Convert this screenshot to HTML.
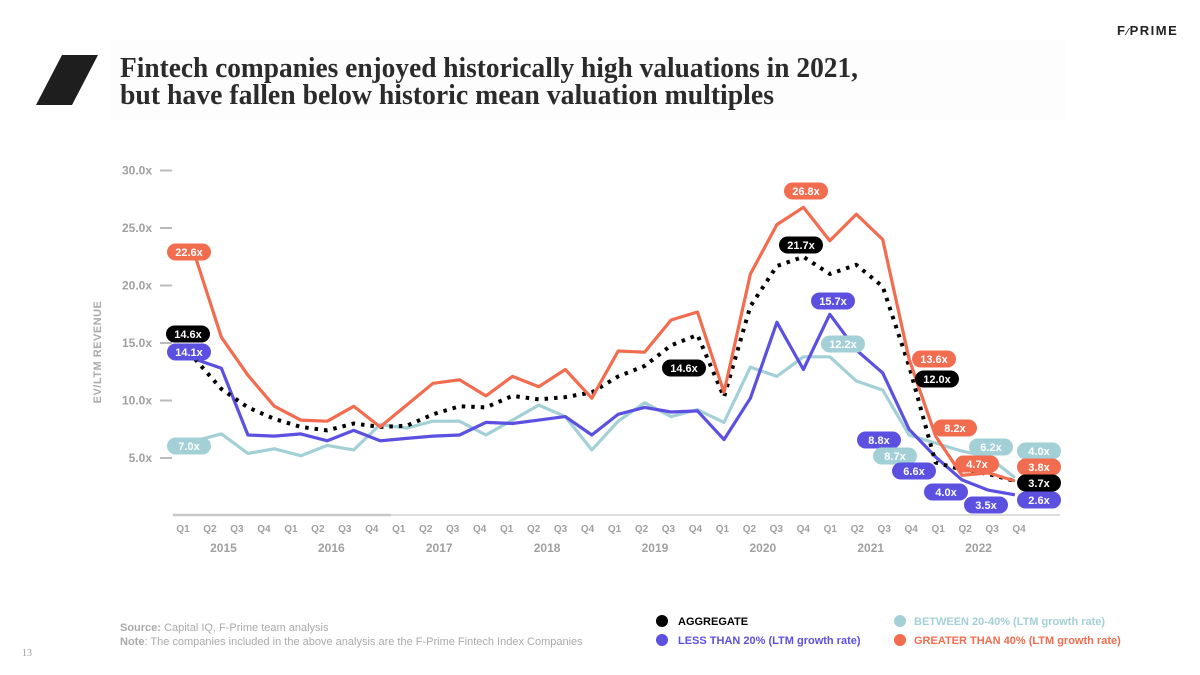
<!DOCTYPE html>
<html><head><meta charset="utf-8"><style>
html,body{margin:0;padding:0;background:#fff;width:1200px;height:675px;overflow:hidden}
svg{display:block}
text{font-family:"Liberation Sans",sans-serif}
text.serif{font-family:"Liberation Serif",serif}
</style></head><body>
<svg id="chart" width="1200" height="675" viewBox="0 0 1200 675" xmlns="http://www.w3.org/2000/svg">
<rect x="0" y="0" width="1200" height="675" fill="#fff"/>
<rect x="110" y="40" width="955" height="80" fill="#fdfdfd"/>
<polygon points="62,55 98,55 72,105 36,105" fill="#1e1e1e"/>
<text class="serif" style="font-family:'Liberation Serif',serif" x="120" y="77" font-weight="bold" font-size="28" fill="#2b2b2b" textLength="738" lengthAdjust="spacingAndGlyphs">Fintech companies enjoyed historically high valuations in 2021,</text>
<text class="serif" style="font-family:'Liberation Serif',serif" x="120" y="104" font-weight="bold" font-size="28" fill="#2b2b2b" textLength="654" lengthAdjust="spacingAndGlyphs">but have fallen below historic mean valuation multiples</text>
<text x="1117" y="35" font-size="13" font-weight="bold" fill="#222" letter-spacing="1.5">F<tspan font-size="10">⁄</tspan>PRIME</text>
<text transform="translate(101,352) rotate(-90)" text-anchor="middle" font-size="11" font-weight="bold" fill="#aaa" letter-spacing="0.5">EV/LTM REVENUE</text>
<g id="axes"></g>
<g id="series"></g>
<g id="pills"></g>
<text x="120" y="631" font-size="11" fill="#aaa"><tspan font-weight="bold">Source:</tspan> Capital IQ, F-Prime team analysis</text>
<text x="120" y="645" font-size="11" fill="#aaa"><tspan font-weight="bold">Note</tspan>: The companies included in the above analysis are the F-Prime Fintech Index Companies</text>
<g>
<g><circle cx="662" cy="621" r="6" fill="#000"/><text x="678" y="625" font-size="11" font-weight="bold" fill="#000">AGGREGATE</text></g>
<g><circle cx="662" cy="640" r="6" fill="#5b50e0"/><text x="678" y="644" font-size="11" font-weight="bold" fill="#5b50e0">LESS THAN 20% (LTM growth rate)</text></g>
<g><circle cx="900" cy="621" r="6" fill="#a3d0d6"/><text x="914" y="625" font-size="11" font-weight="bold" fill="#a3d0d6">BETWEEN 20-40% (LTM growth rate)</text></g>
<g><circle cx="900" cy="640" r="6" fill="#f26c4f"/><text x="914" y="644" font-size="11" font-weight="bold" fill="#f26c4f">GREATER THAN 40% (LTM growth rate)</text></g>
</g>
<text class="serif" style="font-family:'Liberation Serif',serif" x="22" y="656" font-size="10" fill="#999">13</text>
</svg>
<script>
const quarters = ["Q1","Q2","Q3","Q4","Q1","Q2","Q3","Q4","Q1","Q2","Q3","Q4","Q1","Q2","Q3","Q4","Q1","Q2","Q3","Q4","Q1","Q2","Q3","Q4","Q1","Q2","Q3","Q4","Q1","Q2","Q3","Q4"];
const years = ["2015","2016","2017","2018","2019","2020","2021","2022"];
const yTicks = [5,10,15,20,25,30];
const yTickLabels = ["5.0x","10.0x","15.0x","20.0x","25.0x","30.0x"];
const greaterThan40 = [22.6,15.5,12.2,9.5,8.3,8.2,9.5,7.7,9.6,11.5,11.8,10.4,12.1,11.2,12.7,10.2,14.3,14.2,17.0,17.7,10.7,21.0,25.3,26.8,23.9,26.2,24.0,13.6,6.9,3.5,3.7,3.0];
const aggregate = [13.6,11.0,9.4,8.4,7.7,7.4,8.0,7.7,7.8,8.8,9.5,9.4,10.4,10.1,10.3,10.7,12.1,13.0,14.8,15.7,10.3,18.2,21.7,22.5,21.0,21.8,19.9,13.0,4.6,4.0,3.6,3.0];
const lessThan20 = [13.6,12.8,7.0,6.9,7.1,6.5,7.4,6.5,6.7,6.9,7.0,8.1,8.0,8.3,8.6,7.0,8.8,9.4,9.0,9.1,6.6,10.2,16.8,12.7,17.5,14.4,12.4,7.5,5.1,3.1,2.2,1.8];
const between20to40 = [6.5,7.1,5.4,5.8,5.2,6.1,5.7,7.9,7.6,8.2,8.2,7.0,8.3,9.6,8.6,5.7,8.2,9.8,8.6,9.2,8.1,12.9,12.1,13.8,13.8,11.7,10.9,7.0,6.3,5.6,5.1,3.3];
const pillTexts = ["22.6x","14.6x","14.1x","7.0x","14.6x","26.8x","21.7x","15.7x","12.2x","13.6x","12.0x","8.2x","8.8x","8.7x","6.6x","6.2x","4.7x","4.0x","3.5x","4.0x","3.8x","3.7x","2.6x"];
const pillSeries = ["o","k","b","t","k","o","k","b","t","o","k","o","b","t","b","t","o","b","b","t","o","k","b"];

const NS="http://www.w3.org/2000/svg";
const x = i => 195 + i*26.45;
const xl = i => 183 + i*26.97;
const y = v => 515.5 - v*11.5;
function mk(tag, attrs, parent){const e=document.createElementNS(NS,tag);for(const k in attrs)e.setAttribute(k,attrs[k]);parent.appendChild(e);return e;}
const axes=document.getElementById('axes'), ser=document.getElementById('series'), pills=document.getElementById('pills');

yTicks.forEach((v,i)=>{
  const t=mk('text',{x:152,y:y(v)+4,'text-anchor':'end','font-size':12,'font-weight':'bold',fill:'#a0a0a0'},axes);
  t.textContent=yTickLabels[i];
  
  
  const l=mk('line',{x1:160,x2:172,y1:y(v),y2:y(v),stroke:'#bbb','stroke-width':2},axes);
  
  
});
const ax=mk('line',{x1:173,x2:1060,y1:515,y2:515,stroke:'#ddd','stroke-width':2},axes);


const ax2=mk('line',{x1:173,x2:391,y1:515,y2:515,stroke:'#c8c8c8','stroke-width':2.5},axes);


quarters.forEach((q,i)=>{
  const t=mk('text',{x:xl(i),y:532,'text-anchor':'middle','font-size':10,'font-weight':'bold',fill:'#a0a0a0'},axes);
  t.textContent=q;
  
  
});
years.forEach((yr,k)=>{
  const t=mk('text',{x:(xl(4*k+1)+xl(4*k+2))/2,y:552,'text-anchor':'middle','font-size':12,'font-weight':'bold',fill:'#a0a0a0'},axes);
  t.textContent=yr;
  
  
});
function line(vals,color,name,dotted){
  const d=vals.map((v,i)=>(i?'L':'M')+x(i).toFixed(1)+','+y(v).toFixed(1)).join(' ');
  const a={d:d,fill:'none',stroke:color,'stroke-width':dotted?4:3.2,'stroke-linejoin':'round'};
  if(dotted){a['stroke-dasharray']='3.5 6';}
  const p=mk('path',a,ser);
  
  
}
line(between20to40,'#a3d0d6','line-between-20-40',false);
line(lessThan20,'#5b50e0','line-less-than-20',false);
line(aggregate,'#000','line-aggregate',true);
line(greaterThan40,'#f26c4f','line-greater-than-40',false);

const colors={o:'#f26c4f',k:'#000',b:'#5b50e0',t:'#a3d0d6'};
const pillPos=[[189,252],[188,334],[189,352],[189,446],[684,368],[806,191],[801,245],[833,301],[843,344],[934,359],[937,379],[955,428],[879,440],[895,456],[914,471],[991,447],[977,464],[946,492],[986,505],[1039,451],[1039,467],[1039,483],[1039,500]];
pillTexts.forEach((txt,i)=>{
  const [cx,cy]=pillPos[i];
  const g=mk('g',{},pills);
  
  
  mk('rect',{x:cx-22,y:cy-8.5,width:44,height:17,rx:8.5,fill:colors[pillSeries[i]]},g);
  const t=mk('text',{x:cx,y:cy+4,'text-anchor':'middle','font-size':11,'font-weight':'bold',fill:'#fff'},g);
  t.textContent=txt;
});
</script>
</body></html>
